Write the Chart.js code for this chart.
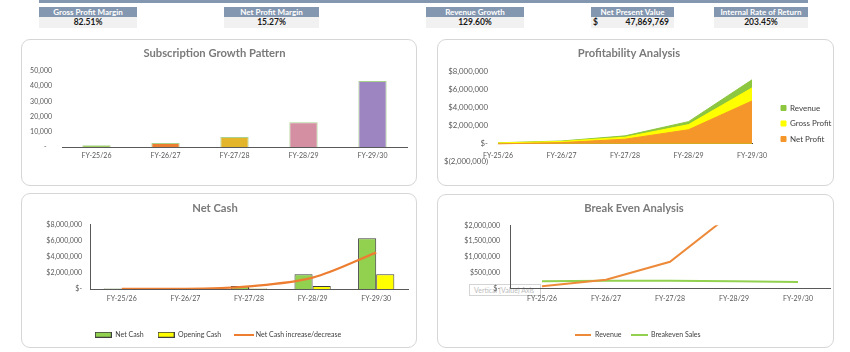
<!DOCTYPE html>
<html>
<head>
<meta charset="utf-8">
<script src="https://cdn.jsdelivr.net/npm/chart.js@4.4.1/dist/chart.umd.min.js"></script>
<style>
html,body{margin:0;padding:0;background:#fff;width:850px;height:352px;overflow:hidden;font-family:Lato,"Open Sans",sans-serif;}
.topbar{position:absolute;left:39px;top:0;width:769px;height:3px;background:#8497B0;}
.kpi{position:absolute;top:7px;}
.kpi .h{height:10px;line-height:10px;background:#8497B0;color:#fff;font-weight:bold;font-size:8px;text-align:center;white-space:nowrap;}
.kpi .v{position:relative;height:11px;line-height:11px;background:#f1f1f1;color:#1a1a1a;font-weight:bold;font-size:8.5px;text-align:center;white-space:nowrap;}
.kpi .v .cur{position:absolute;left:2px;top:0;}
.kpi .v .num{position:absolute;right:5px;top:0;}
.panel{position:absolute;border:1px solid #d6d6d6;border-radius:9px;background:#fff;box-sizing:border-box;}
.panel canvas{position:absolute;left:0;top:0;z-index:1;}
.axtip{position:absolute;left:31px;top:89px;width:72px;height:12px;box-sizing:border-box;border:1px solid #d4d4d4;color:#bdbdbd;font-size:7px;line-height:10px;padding-left:4px;white-space:nowrap;z-index:0;}
</style>
</head>
<body>
<div class="topbar"></div>
<div id="kpis"></div>

<div class="panel" style="left:21px;top:39px;width:396px;height:147px;"><canvas id="c1" width="394" height="145"></canvas></div>
<div class="panel" style="left:437px;top:39px;width:397px;height:147px;"><canvas id="c2" width="395" height="145"></canvas></div>
<div class="panel" style="left:21px;top:193px;width:396px;height:155px;"><canvas id="c3" width="394" height="153"></canvas></div>
<div class="panel" style="left:437px;top:194px;width:397px;height:154px;"><div class="axtip">Vertical (Value) Axis</div><canvas id="c4" width="395" height="152"></canvas></div>

<script>
// ---------------- DATA ----------------
const years = ['FY-25/26', 'FY-26/27', 'FY-27/28', 'FY-28/29', 'FY-29/30'];
const subscribers = [1100, 2600, 6600, 16300, 43500];
const revenue = [80000, 280000, 850000, 2430000, 7080000];
const grossProfit = [65000, 230000, 700000, 2100000, 6180000];
const netProfit = [-40000, 100000, 480000, 1530000, 4730000];
const netCash = [50000, 60000, 370000, 1820000, 6270000];
const openingCash = [0, 50000, 60000, 370000, 1820000];
const netCashChange = [10000, 30000, 330000, 1400000, 4500000];
const breakevenSales = [233000, 252000, 252000, 233000, 211000];
const kpiLabels = ['Gross Profit Margin', 'Net Profit Margin', 'Revenue Growth', 'Net Present Value', 'Internal Rate of Return'];
const kpiValues = ['82.51%', '15.27%', '129.60%', '47,869,769', '203.45%'];
const profitSeries = ['Revenue', 'Gross Profit', 'Net Profit'];

// ---------------- STYLE ----------------
const kpiBoxes = [[39, 98], [224, 95], [426, 98], [591, 83], [714, 94]];
const subColors = ['#8DC63F', '#ED7D31', '#E3B52B', '#D48FA3', '#9C85C1'];
const FAMILY = 'Lato, "Open Sans", sans-serif';
const TICK_FONT = {size: 7};
const TITLE_FONT = {size: 11.2, weight: 'bold'};
const TITLE_COLOR = '#7a7a7a';
const AXIS_COLOR = '#595959';

Chart.defaults.font.family = FAMILY;
Chart.defaults.color = '#595959';
Chart.defaults.animation = false;

// KPI boxes
const kpiWrap = document.getElementById('kpis');
kpiLabels.forEach((lab, i) => {
  const d = document.createElement('div');
  d.className = 'kpi';
  d.style.left = kpiBoxes[i][0] + 'px';
  d.style.width = kpiBoxes[i][1] + 'px';
  const h = document.createElement('div'); h.className = 'h'; h.textContent = lab;
  const v = document.createElement('div'); v.className = 'v';
  if (lab === 'Net Present Value') {
    v.innerHTML = '<span class="cur">$</span><span class="num"></span>';
    v.querySelector('.num').textContent = kpiValues[i];
  } else {
    v.textContent = kpiValues[i];
  }
  d.appendChild(h); d.appendChild(v); kpiWrap.appendChild(d);
});

const money = v => v === 0 ? '$-' : (v < 0 ? '$(' + (-v).toLocaleString('en-US') + ')' : '$' + v.toLocaleString('en-US'));

const legendPin = {
  id: 'legendPin',
  afterLayout(chart, args, opts) {
    const L = chart.legend; if (!L) return;
    const dx = opts.dx || 0, dy = opts.dy || 0;
    L.left += dx; L.right += dx; L.top += dy; L.bottom += dy;
  }
};

function rectIcon(w, h, fill, stroke) {
  const c = document.createElement('canvas'); c.width = w; c.height = h;
  const x = c.getContext('2d'); x.fillStyle = fill; x.fillRect(0, 0, w, h);
  if (stroke) { x.strokeStyle = stroke; x.lineWidth = 1; x.strokeRect(0.5, 0.5, w - 1, h - 1); }
  return c;
}
function lineIcon(w, h, color) {
  const c = document.createElement('canvas'); c.width = w; c.height = h;
  const x = c.getContext('2d'); x.fillStyle = color; x.fillRect(0, 0, w, h);
  return c;
}
const mctx = document.createElement('canvas').getContext('2d');
function textW(t, size) { mctx.font = 'normal ' + size + 'px ' + FAMILY; return mctx.measureText(t).width; }
const byIndex = (a, b) => a.datasetIndex - b.datasetIndex;

// ---------------- CHART 1 ----------------
new Chart(document.getElementById('c1'), {
  type: 'bar',
  data: {labels: years, datasets: [{label: 'Subscribers', data: subscribers, backgroundColor: subColors,
    borderColor: '#A9D18E', borderWidth: 1, barPercentage: 0.41, categoryPercentage: 1}]},
  options: {
    responsive: false,
    layout: {padding: {left: 0, right: 9, top: 0, bottom: 0}},
    plugins: {
      legend: {display: false}, tooltip: {enabled: false},
      title: {display: true, text: 'Subscription Growth Pattern', color: TITLE_COLOR, font: TITLE_FONT, padding: {top: 6.3, bottom: 11.3}}
    },
    scales: {
      x: {grid: {display: false, drawTicks: false}, border: {color: AXIS_COLOR, width: 1},
        ticks: {font: TICK_FONT, padding: 5, maxRotation: 0}, afterFit: s => { s.height = 38; }},
      y: {min: 0, max: 50000, grid: {display: false, drawTicks: false}, border: {display: false},
        ticks: {stepSize: 10000, font: TICK_FONT, padding: 10, callback: v => v === 0 ? '-   ' : v.toLocaleString('en-US')},
        afterFit: s => { s.width = 40; }}
    }
  }
});

// ---------------- CHART 2 ----------------
const L2 = {font: 8, box: 5, pad: 7.5};
const legend2W = L2.pad + L2.box + L2.font / 2 + Math.max(...profitSeries.map(t => textW(t, L2.font))) + 10;
const plotRight2 = 314;
const padRight2 = 395 - plotRight2 - legend2W;
new Chart(document.getElementById('c2'), {
  type: 'line',
  data: {labels: years, datasets: [
    {label: profitSeries[0], data: revenue, backgroundColor: '#8DC63F', borderColor: '#8DC63F', borderWidth: 1, fill: 'origin', pointRadius: 0, order: 3},
    {label: profitSeries[1], data: grossProfit, backgroundColor: '#FFFF00', borderColor: '#FFFF00', borderWidth: 1, fill: 'origin', pointRadius: 0, order: 2},
    {label: profitSeries[2], data: netProfit, backgroundColor: '#F5962A', borderColor: '#F5962A', borderWidth: 1, fill: 'origin', pointRadius: 0, order: 1}
  ]},
  plugins: [legendPin],
  options: {
    responsive: false,
    layout: {padding: {left: 0, right: padRight2, top: 0, bottom: 23.5}},
    plugins: {
      tooltip: {enabled: false},
      title: {display: true, text: 'Profitability Analysis', color: TITLE_COLOR, font: TITLE_FONT, padding: {top: 6.3, bottom: 11.8}},
      legend: {position: 'right', align: 'start',
        labels: {boxWidth: L2.box, boxHeight: L2.box, padding: L2.pad, font: {size: L2.font}, color: '#404040', sort: byIndex}},
      legendPin: {dx: 343 - (plotRight2 + L2.pad), dy: 68 - (L2.pad + L2.font / 2)}
    },
    scales: {
      x: {position: {y: 0}, grid: {display: false, drawTicks: false}, border: {color: '#404040', width: 1},
        ticks: {font: TICK_FONT, padding: 8, maxRotation: 0}},
      y: {min: -2000000, max: 8000000, grid: {display: false, drawTicks: false}, border: {display: false},
        ticks: {stepSize: 2000000, font: {size: 7.8}, padding: 10, callback: money},
        afterFit: s => { s.width = 60; }}
    }
  }
});

// ---------------- CHART 3 ----------------
const icons3 = [rectIcon(17, 6, '#92D050', '#3f3f3f'), rectIcon(17, 6, '#FFFF00', '#3f3f3f'), lineIcon(20, 2, '#ED7D31')];
new Chart(document.getElementById('c3'), {
  type: 'bar',
  data: {labels: years, datasets: [
    {label: 'Net Cash', data: netCash, backgroundColor: '#92D050', borderColor: '#3f3f3f', borderWidth: 1, order: 1},
    {label: 'Opening Cash', data: openingCash, backgroundColor: '#FFFF00', borderColor: '#3f3f3f', borderWidth: 1, order: 1},
    {label: 'Net Cash increase/decrease', type: 'line', data: netCashChange, borderColor: '#ED7D31', backgroundColor: '#ED7D31',
      borderWidth: 2.2, pointRadius: 0, cubicInterpolationMode: 'monotone', order: 0}
  ]},
  plugins: [legendPin],
  options: {
    responsive: false,
    datasets: {bar: {categoryPercentage: 0.57, barPercentage: 1}},
    layout: {padding: {left: 0, right: 8, top: 0, bottom: 7}},
    plugins: {
      tooltip: {enabled: false},
      title: {display: true, text: 'Net Cash', color: TITLE_COLOR, font: TITLE_FONT, padding: {top: 7.3, bottom: 9.6}},
      legend: {position: 'bottom',
        labels: {usePointStyle: true, pointStyleWidth: 17, padding: 14, font: {size: 7}, color: '#404040', sort: byIndex,
          generateLabels: chart => Chart.defaults.plugins.legend.labels.generateLabels(chart).map(it => { it.pointStyle = icons3[it.datasetIndex]; return it; })}},
      legendPin: {dx: 3, dy: 8.2}
    },
    scales: {
      x: {grid: {display: false, drawTicks: false}, border: {color: AXIS_COLOR, width: 1},
        ticks: {font: TICK_FONT, padding: 6, maxRotation: 0}, afterFit: s => { s.height = 20; }},
      y: {min: 0, max: 8000000, grid: {display: false, drawTicks: false}, border: {color: AXIS_COLOR, width: 1},
        ticks: {stepSize: 2000000, font: TICK_FONT, padding: 8, callback: money},
        afterFit: s => { s.width = 68; }}
    }
  }
});

// ---------------- CHART 4 ----------------
const icons4 = [lineIcon(16, 2, '#ED8A3A'), lineIcon(17, 2, '#92D050')];
new Chart(document.getElementById('c4'), {
  type: 'line',
  data: {labels: years, datasets: [
    {label: 'Revenue', data: revenue, borderColor: '#ED8A3A', backgroundColor: '#ED8A3A', borderWidth: 2, pointRadius: 0, tension: 0},
    {label: 'Breakeven Sales', data: breakevenSales, borderColor: '#92D050', backgroundColor: '#92D050', borderWidth: 2, pointRadius: 0, tension: 0}
  ]},
  plugins: [legendPin],
  options: {
    responsive: false,
    layout: {padding: {left: 0, right: 3, top: 0, bottom: 11.3}},
    plugins: {
      tooltip: {enabled: false},
      title: {display: true, text: 'Break Even Analysis', color: TITLE_COLOR, font: TITLE_FONT, padding: {top: 7.0, bottom: 9.9}},
      legend: {position: 'bottom',
        labels: {usePointStyle: true, pointStyleWidth: 16, padding: 10, font: {size: 7}, color: '#404040', sort: byIndex,
          generateLabels: chart => Chart.defaults.plugins.legend.labels.generateLabels(chart).map(it => { it.pointStyle = icons4[it.datasetIndex]; return it; })}},
      legendPin: {dx: 4, dy: 12.5}
    },
    scales: {
      x: {offset: true, grid: {display: false, drawTicks: false}, border: {color: AXIS_COLOR, width: 1},
        ticks: {font: TICK_FONT, padding: 6, maxRotation: 0}, afterFit: s => { s.height = 20; }},
      y: {min: 0, max: 2000000, grid: {display: false, drawTicks: false}, border: {color: AXIS_COLOR, width: 1},
        ticks: {stepSize: 500000, font: TICK_FONT, padding: 10, callback: money},
        afterFit: s => { s.width = 72; }}
    }
  }
});
</script>
</body>
</html>
